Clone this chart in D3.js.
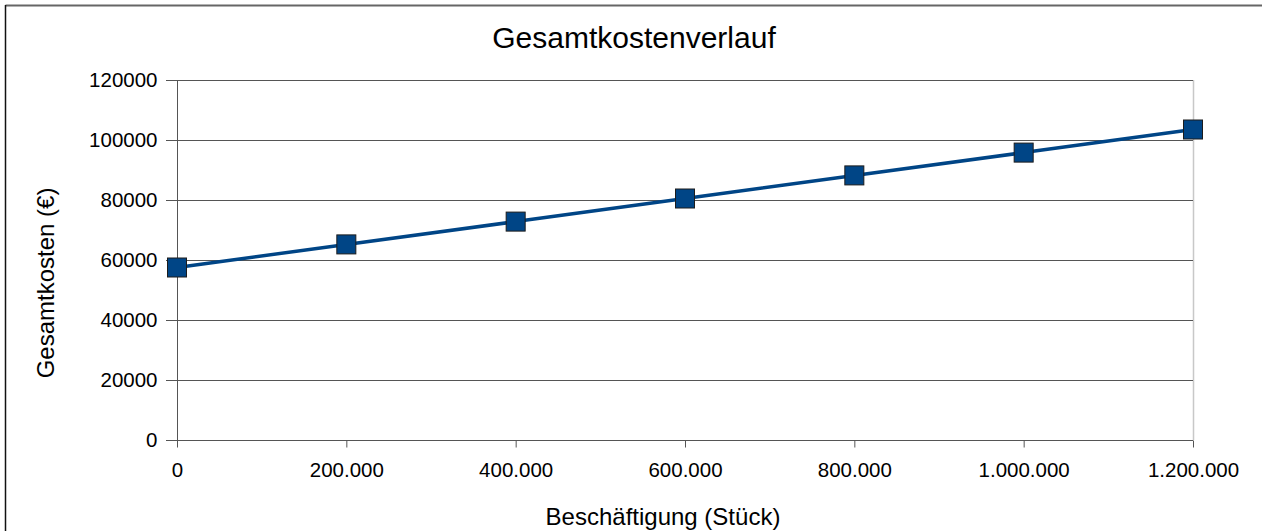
<!DOCTYPE html>
<html><head><meta charset="utf-8">
<script src="https://cdn.jsdelivr.net/npm/d3@7"></script>
<style>body{margin:0;background:#fff}svg{display:block;font-family:"Liberation Sans",Arial,sans-serif}</style>
</head><body><svg id="c" width="1262" height="531"></svg>
<script>
const title = "Gesamtkostenverlauf";
const xTitle = "Beschäftigung (Stück)";
const yTitle = "Gesamtkosten (€)";
const quantities = [0, 200000, 400000, 600000, 800000, 1000000, 1200000];
const totalCosts = [57500, 65200, 72800, 80500, 88200, 95800, 103500];
const yTicks = [0, 20000, 40000, 60000, 80000, 100000, 120000];
const xTicks = [0, 200000, 400000, 600000, 800000, 1000000, 1200000];

const svg = d3.select("#c");
const L = 177, R = 1193, T = 80, B = 440;
const x = d3.scaleLinear().domain([0, 1200000]).range([L, R]);
const y = d3.scaleLinear().domain([0, 120000]).range([B, T]);
const fmtX = v => d3.format(",")(v).replace(/,/g, ".");

// outer frame
svg.append("line").attr("x1",5.5).attr("x2",1262).attr("y1",5.5).attr("y2",5.5).attr("stroke","#666").attr("stroke-width",2);
svg.append("line").attr("x1",5.5).attr("x2",5.5).attr("y1",5).attr("y2",531).attr("stroke","#111").attr("stroke-width",1.5);

// right plot border
svg.append("line").attr("x1",R+0.5).attr("x2",R+0.5).attr("y1",T).attr("y2",B).attr("stroke","#c8c8c8").attr("stroke-width",1.5);

// gridlines
svg.append("g").selectAll("line").data(yTicks).join("line")
  .attr("x1",166).attr("x2",R).attr("y1",d=>Math.round(y(d))+0.5).attr("y2",d=>Math.round(y(d))+0.5)
  .attr("stroke","#555").attr("stroke-width",1);

// y axis
const yAxis = d3.axisLeft(y).tickValues(yTicks).tickSize(11).tickPadding(9).tickFormat(d3.format("d"));
const gy = svg.append("g").attr("transform",`translate(${L+0.5},0)`).call(yAxis);
gy.select(".domain").attr("stroke","#555").attr("d",`M0,${T}V${B+7}`);
gy.selectAll(".tick line").attr("stroke","#555");
gy.selectAll("text").attr("font-size",20.5).attr("fill","#000").attr("font-family","Liberation Sans, Arial, sans-serif");

// x axis
const xAxis = d3.axisBottom(x).tickValues(xTicks).tickSize(7).tickPadding(15).tickFormat(fmtX);
const gx = svg.append("g").attr("transform",`translate(0,${B+0.5})`).call(xAxis);
gx.select(".domain").remove();
gx.selectAll(".tick line").attr("stroke","#555");
gx.selectAll("text").attr("font-size",20.5).attr("fill","#000").attr("font-family","Liberation Sans, Arial, sans-serif");

// line
svg.append("path").datum(quantities.map((q,i)=>[q,totalCosts[i]]))
  .attr("fill","none").attr("stroke","#004586").attr("stroke-width",3.5)
  .attr("d", d3.line().x(d=>x(d[0])).y(d=>y(d[1])));

// markers
const ms = 19;
svg.append("g").selectAll("rect").data(quantities).join("rect")
  .attr("x",(d)=>x(d)-ms/2).attr("y",(d,i)=>y(totalCosts[i])-ms/2)
  .attr("width",ms).attr("height",ms)
  .attr("fill","#004586").attr("stroke","#1c1c1c").attr("stroke-width",1);

// titles
svg.append("text").attr("x",634).attr("y",48).attr("text-anchor","middle")
  .attr("font-size",30).attr("fill","#000").text(title);
svg.append("text").attr("x",663).attr("y",525).attr("text-anchor","middle")
  .attr("font-size",24).attr("fill","#000").text(xTitle);
svg.append("text").attr("transform","translate(54,283) rotate(-90)").attr("text-anchor","middle")
  .attr("font-size",24).attr("fill","#000").text(yTitle);
</script></body></html>
